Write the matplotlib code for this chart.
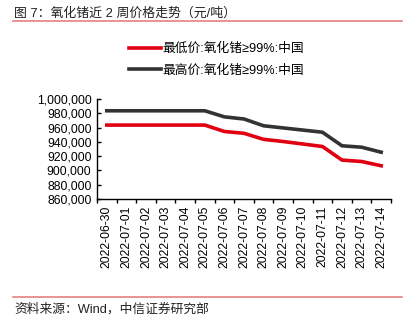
import matplotlib
matplotlib.use("Agg")
import matplotlib.pyplot as plt
import numpy as np
from matplotlib.ticker import FuncFormatter, FixedLocator

plt.rcParams['font.family'] = ['Liberation Sans', 'Noto Sans CJK SC']

dates = ["2022-06-30", "2022-07-01", "2022-07-02", "2022-07-03", "2022-07-04",
         "2022-07-05", "2022-07-06", "2022-07-07", "2022-07-08", "2022-07-09",
         "2022-07-10", "2022-07-11", "2022-07-12", "2022-07-13", "2022-07-14"]
low_price = [963500, 963500, 963500, 963500, 963500, 963500, 954500, 952000,
             943500, 940500, 937000, 933500, 914500, 912500, 906500]
high_price = [983500, 983500, 983500, 983500, 983500, 983500, 975000, 972000,
              962500, 959500, 956500, 953500, 934500, 932500, 925500]
low_label = "最低价:氧化锗≥99%:中国"
high_label = "最高价:氧化锗≥99%:中国"

red = "#E00012"
dark = "#333333"

fig = plt.figure(figsize=(4.10, 3.27), dpi=100)
ax = fig.add_axes([97 / 410, 1 - 199 / 327, 294 / 410, 100 / 327])

x = np.arange(len(dates))
ax.plot(x, low_price, color=red, lw=2.6, solid_joinstyle="round", label=low_label)
ax.plot(x, high_price, color=dark, lw=2.6, solid_joinstyle="round", label=high_label)

ax.set_xlim(-0.5, len(dates) - 0.5)
ax.set_ylim(860000, 1000000)
ax.set_yticks(np.arange(860000, 1000001, 20000))
ax.yaxis.set_major_formatter(FuncFormatter(lambda v, p: f"{int(v):,}"))
ax.tick_params(axis="y", direction="in", length=3, width=1, labelsize=8.8, pad=4)

ax.set_xticks(x)
ax.set_xticklabels(dates, rotation=90, fontsize=8.8)
ax.tick_params(axis="x", which="major", length=0, pad=5)
ax.xaxis.set_minor_locator(FixedLocator(np.arange(-0.5, len(dates), 1.0)))
ax.tick_params(axis="x", which="minor", direction="out", length=3, width=1)

for s in ["top", "right"]:
    ax.spines[s].set_visible(False)
for s in ["left", "bottom"]:
    ax.spines[s].set_linewidth(1)
    ax.spines[s].set_color("black")

# legend stacked above the plot
handles, labels = ax.get_legend_handles_labels()
fig.legend(handles, labels, loc="center", bbox_to_anchor=(216.5 / 410, 1 - 59.7 / 327),
           frameon=False, fontsize=9.2, handlelength=2.5, handletextpad=0.15,
           labelspacing=0.72, borderpad=0)

fig.text(14 / 410, 1 - 14 / 327, "图 7：氧化锗近 2 周价格走势（元/吨）", fontsize=9.3,
         color="#222222", va="center", ha="left")
fig.add_artist(plt.Line2D([13 / 410, 402 / 410], [1 - 20.5 / 327, 1 - 20.5 / 327],
                          color="#E58080", lw=1.2))
fig.add_artist(plt.Line2D([13 / 410, 402 / 410], [1 - 297 / 327, 1 - 297 / 327],
                          color="#E58080", lw=1.2))
fig.text(14 / 410, 1 - 309 / 327, "资料来源：Wind，中信证券研究部", fontsize=9.2,
         color="#222222", va="center", ha="left")

fig.savefig("out.png", dpi=100)
